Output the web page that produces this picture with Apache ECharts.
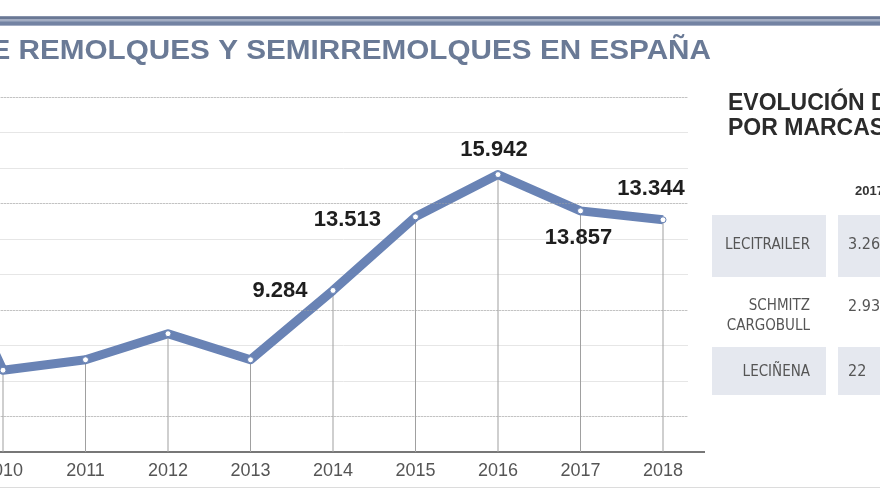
<!DOCTYPE html>
<html>
<head>
<meta charset="utf-8">
<script src="https://cdn.jsdelivr.net/npm/echarts@6/dist/echarts.min.js"></script>
<style>
  html, body { margin: 0; padding: 0; background: #fff; }
  #chart { width: 880px; height: 495px; }
</style>
</head>
<body>
<div id="chart"></div>
<script>
// chart data (the first year sits just off the left edge, as in the cropped original)
const years = [2009, 2010, 2011, 2012, 2013, 2014, 2015, 2016, 2017, 2018]
const registrations = [15000, 4700, 5300, 6800, 5300, 9284, 13513, 15942, 13857, 13344]
const labelledYears = [2014, 2015, 2016, 2017, 2018]
// the hidden value scale: gridlines every 2040, every third one dotted
const yMax = 20400
const yStep = 2040
const dottedLevels = [2040, 8160, 14280, 20400]

// side table
const tableYear = '2017'
const brandNames = ['LECITRAILER', 'SCHMITZ\nCARGOBULL', 'LECIÑENA']
const brandValues = ['3.26', '2.93', '22']

const titleText = 'DE REMOLQUES Y SEMIRREMOLQUES EN ESPAÑA'
const panelTitle = 'EVOLUCIÓN DE\nPOR MARCAS'

const LINE_BLUE = '#6983b5'
const SANS = "'Liberation Sans', Arial, Helvetica, sans-serif"
const NARROW = "'Liberation Sans Narrow', 'DejaVu Sans Condensed', sans-serif"

const fmt = v => String(v).replace(/\B(?=(\d{3})+(?!\d))/g, '.')

// where each value label sits relative to its point
const labelPlacement = {
  2014: { position: 'left', distance: 22 },
  2015: { position: 'left', distance: 31, offset: [0, 3] },
  2016: { position: 'top', distance: 10, offset: [-4, 0] },
  2017: { position: 'bottom', distance: 13, offset: [-2, 0] },
  2018: { position: 'top', distance: 16, offset: [-12, 0] }
}

const lineData = years.map((y, i) => ({
  value: [y, registrations[i]],
  label: labelledYears.includes(y)
    ? Object.assign({ show: true }, labelPlacement[y])
    : { show: false }
}))

const chart = echarts.init(document.getElementById('chart'), null, { renderer: 'canvas' })

// table boxes + texts
const rowBoxes = [
  { y: 215, h: 62, fill: true, textY: 245, valueY: 245 },
  { y: 286, h: 56, fill: false, textY: 316, valueY: 307 },
  { y: 347, h: 48, fill: true, textY: 372, valueY: 372 }
]
const tableGraphics = []
rowBoxes.forEach((row, i) => {
  if (row.fill) {
    tableGraphics.push({
      type: 'rect', silent: true,
      shape: { x: 712, y: row.y, width: 114, height: row.h },
      style: { fill: '#e5e8ef' }
    })
    tableGraphics.push({
      type: 'rect', silent: true,
      shape: { x: 838, y: row.y, width: 60, height: row.h },
      style: { fill: '#e5e8ef' }
    })
  }
  tableGraphics.push({
    type: 'text', silent: true,
    x: 810, y: row.textY,
    style: {
      text: brandNames[i], align: 'right', verticalAlign: 'middle',
      font: '15px ' + NARROW, fill: '#555', lineHeight: 20
    }
  })
  tableGraphics.push({
    type: 'text', silent: true,
    x: 848, y: row.valueY,
    style: {
      text: brandValues[i], align: 'left', verticalAlign: 'middle',
      font: '16px ' + NARROW, fill: '#555'
    }
  })
})

const option = {
  animation: false,
  backgroundColor: '#fff',
  grid: {
    left: -79.5,
    right: 192,
    top: 97,
    bottom: 43,
    containLabel: false,
    outerBoundsMode: 'none'
  },
  xAxis: {
    type: 'value',
    min: 2009,
    max: 2018.303,
    interval: 1,
    axisLine: { lineStyle: { color: '#777', width: 2 } },
    axisTick: { show: false },
    splitLine: { show: false },
    axisLabel: {
      color: '#555',
      fontSize: 18,
      fontFamily: SANS,
      margin: 10,
      hideOverlap: false,
      formatter: v => (Number.isInteger(v) ? String(v) : '')
    }
  },
  yAxis: {
    type: 'value',
    min: 0,
    max: yMax,
    interval: yStep,
    axisLine: { show: false },
    axisTick: { show: false },
    axisLabel: { show: false },
    splitLine: { lineStyle: { color: '#e6e6e6', width: 1 } }
  },
  series: [
    {
      // thin drop lines from each point down to the axis
      type: 'bar',
      data: years.map((y, i) => [y, registrations[i]]),
      barWidth: 1,
      silent: true,
      itemStyle: { color: '#a0a0a0' },
      z: 1
    },
    {
      type: 'line',
      data: lineData,
      z: 3,
      symbol: 'circle',
      symbolSize: 6,
      lineStyle: { color: LINE_BLUE, width: 9, join: 'round' },
      itemStyle: { color: '#fff', borderColor: LINE_BLUE, borderWidth: 1 },
      label: {
        color: '#1e1e1e',
        fontSize: 22,
        fontWeight: 'bold',
        fontFamily: SANS,
        formatter: p => fmt(p.value[1])
      },
      markLine: {
        silent: true,
        symbol: ['none', 'none'],
        label: { show: false },
        lineStyle: { color: '#a0a0a0', type: [1, 2], width: 1 },
        data: dottedLevels.map(v => ({ yAxis: v }))
      }
    }
  ],
  graphic: [
    // top rule
    { type: 'rect', silent: true, shape: { x: 0, y: 16, width: 880, height: 10 }, style: { fill: '#a3adc3' } },
    { type: 'rect', silent: true, shape: { x: 0, y: 16.5, width: 880, height: 2.5 }, style: { fill: '#6a7894' } },
    { type: 'rect', silent: true, shape: { x: 0, y: 21.5, width: 880, height: 3.5 }, style: { fill: '#7383a3' } },
    // headline (cropped on the left)
    {
      type: 'text', silent: true, x: 711, y: 52, scaleX: 1.1,
      style: {
        text: titleText, align: 'right', verticalAlign: 'middle',
        font: 'bold 27px ' + SANS, fill: '#6a7a96'
      }
    },
    // axis line continues a bit past the grid
    { type: 'rect', silent: true, shape: { x: 688, y: 451, width: 17, height: 2 }, style: { fill: '#777' } },
    // bottom rule
    { type: 'rect', silent: true, shape: { x: 0, y: 487, width: 880, height: 1 }, style: { fill: '#dcdcdc' } },
    // side panel
    {
      type: 'text', silent: true, x: 728, y: 91,
      style: {
        text: panelTitle, align: 'left', verticalAlign: 'top',
        font: 'bold 23px ' + SANS, fill: '#2b2b2b', lineHeight: 25
      }
    },
    {
      type: 'text', silent: true, x: 855, y: 191,
      style: {
        text: tableYear, align: 'left', verticalAlign: 'middle',
        font: 'bold 13px ' + SANS, fill: '#333'
      }
    }
  ].concat(tableGraphics)
}

chart.setOption(option)
window.addEventListener('resize', () => chart.resize())
</script>
</body>
</html>
